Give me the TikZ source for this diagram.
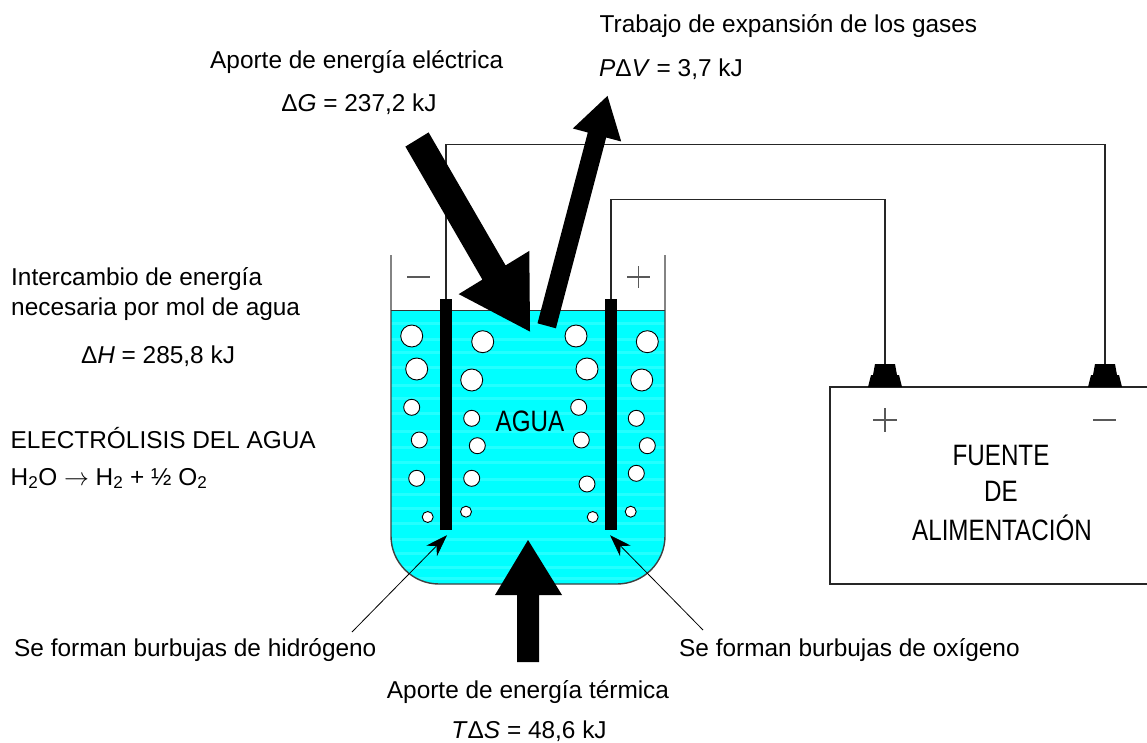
\documentclass[tikz,border=0pt]{standalone}
\usepackage{fontspec}
\setmainfont{Liberation Sans}
\usetikzlibrary{arrows.meta,calc}
\definecolor{waterfill}{RGB}{0,255,255}
\begin{document}
\begin{tikzpicture}[x=1pt,y=-1pt,
  lbl/.style={inner sep=0pt, font=\fontsize{24.4}{29}\selectfont},
  tall/.style={inner sep=0pt, font=\fontsize{29.5}{34}\selectfont, xscale=0.82},
  wire/.style={draw=black!85, line width=1.1pt},
  wall/.style={draw=black!75, line width=1.4pt},
  sign/.style={draw=black!65, line width=1.4pt},
  electrode/.style={fill=black, draw=none, minimum width=12pt, minimum height=231pt, inner sep=0pt},
  bubble/.style={fill=white, draw=black, line width=0.9pt},
  fatarrow/.style={fill=black},
  pointer/.style={draw=black, line width=0.8pt, -{Stealth[length=22pt,width=15pt,inset=7pt]}},
  terminal/.style={fill=black}
]
\useasboundingbox (0,0) rectangle (1147,743);

% water in the cell
\fill[waterfill] (391,310) -- (391,536) arc[start angle=180,end angle=90,radius=48]
  -- (617,584) arc[start angle=90,end angle=0,radius=48] -- (665,310) -- cycle;
\begin{scope}
  \clip (391,310) -- (391,536) arc[start angle=180,end angle=90,radius=48]
    -- (617,584) arc[start angle=90,end angle=0,radius=48] -- (665,310) -- cycle;
  \foreach \yy in {322,338,351,366,384,397,412,430,446,461,478,493,507,522,538,552,566,577}
    \fill[white, opacity=0.14] (391,\yy) rectangle (665,\yy+3);
\end{scope}

% bubbles
\foreach \bx/\by/\br in {
  411.7/336/11, 416.7/369/11, 411.7/407.3/8, 419.3/440/8, 416.7/478.3/8, 427.7/517/5.5,
  482.7/341.7/11, 471.7/380/11, 471.7/418.3/8, 477.3/445.7/8, 471.7/478.3/8, 466/511.7/5.5,
  576/336/11, 587/369/11, 578.7/407.3/8, 581.3/440/8, 587/484/8, 592.7/517/5.5,
  647.3/341.7/11, 641.7/380/11, 636.3/418.3/8, 647.3/445.7/8, 636.3/473.3/8, 630.7/511.7/5.5}
  \draw[bubble] (\bx,\by) circle[radius=\br];

% vessel walls and water surface
\draw[wall] (391,255) -- (391,536) arc[start angle=180,end angle=90,radius=48]
  -- (617,584) arc[start angle=90,end angle=0,radius=48] -- (665,255);
\draw[black!80, line width=1pt] (391,310) -- (665,310);

% electrodes
\node[electrode] (cathode) at (446,414.5) {};
\node[electrode] (anode) at (611,414.5) {};

% polarity signs of the cell
\draw[sign] (407,277) -- (430,277);
\draw[sign] (627,277) -- (650,277) (638.5,266) -- (638.5,288);

% power supply
\draw[wire, line width=1.3pt] (1147,387) -- (830,387) -- (830,584) -- (1147,584);
\fill[terminal] (875,364) -- (895,364) -- (897,375) -- (899,375) -- (902,387)
  -- (868,387) -- (871,375) -- (873,375) -- cycle;
\fill[terminal, shift={(220,0)}] (875,364) -- (895,364) -- (897,375) -- (899,375) -- (902,387)
  -- (868,387) -- (871,375) -- (873,375) -- cycle;
\coordinate (termpos) at (885,364);
\coordinate (termneg) at (1105,364);
\draw[sign] (873,420) -- (897,420) (885,408) -- (885,432);
\draw[sign] (1093,420) -- (1116,420);

% wiring
\draw[wire] (cathode.north) -- ++(0,-154) -| (termneg);
\draw[wire] (anode.north) -- ++(0,-99) -| (termpos);

% electrical energy input
\fill[fatarrow] (405.4,146.6) -- (428.6,132.4) -- (505.6,265.4) -- (529.3,250.9)
  -- (530,331.6) -- (458.7,294.1) -- (482.4,279.6) -- cycle;
% expansion work of the gases
\fill[fatarrow] (537.5,323.3) -- (555.9,328.3) -- (606.2,137.5) -- (621.2,141.5)
  -- (607.5,95.9) -- (572.8,128.5) -- (587.8,132.5) -- cycle;
% thermal energy input
\fill[fatarrow] (517,662) -- (539,662) -- (539,595) -- (562,595) -- (528,540)
  -- (495,595) -- (517,595) -- cycle;

% bubble pointers
\coordinate (hyd) at (352,632);
\coordinate (oxy) at (703,630);
\draw[pointer] (hyd) -- ($(cathode.south)+(1,5)$);
\draw[pointer] (oxy) -- ($(anode.south)+(-1,5)$);

% labels
\node[lbl, anchor=base west] (work) at (599.5,33) {Trabajo de expansión de los gases};
\node[lbl, anchor=base west] (workval) at (599,77) {\textit{P}Δ\textit{V} = 3,7 kJ};
\node[lbl, anchor=base west] (elec) at (210,69) {Aporte de energía eléctrica};
\node[lbl, anchor=base] (elecval) at (359,112) {Δ\textit{G} = 237,2 kJ};
\node[lbl, anchor=base west] (exch1) at (11,285) {Intercambio de energía};
\node[lbl, anchor=base west] (exch2) at (11,315) {necesaria por mol de agua};
\node[lbl, anchor=base] (exchval) at (158,363) {Δ\textit{H} = 285,8 kJ};
\node[lbl, anchor=base west] (title) at (10.5,448) {ELECTRÓLISIS DEL AGUA};
\node[lbl, anchor=base west] (eqn) at (10.5,485) {H\textsubscript{2}O $\rightarrow$ H\textsubscript{2} + ½ O\textsubscript{2}};
\node[tall, anchor=base] (water) at (530,431) {AGUA};
\node[tall, anchor=base] (src1) at (1001,465) {FUENTE};
\node[tall, anchor=base] (src2) at (1001,501) {DE};
\node[tall, anchor=base] (src3) at (1002,540) {ALIMENTACIÓN};
\node[lbl, anchor=base west] (hydlbl) at (14,656) {Se forman burbujas de hidrógeno};
\node[lbl, anchor=base west] (oxylbl) at (679,656) {Se forman burbujas de oxígeno};
\node[lbl, anchor=base] (therm) at (528,698) {Aporte de energía térmica};
\node[lbl, anchor=base] (thermval) at (529,738) {\textit{T}Δ\textit{S} = 48,6 kJ};
\end{tikzpicture}
\end{document}
